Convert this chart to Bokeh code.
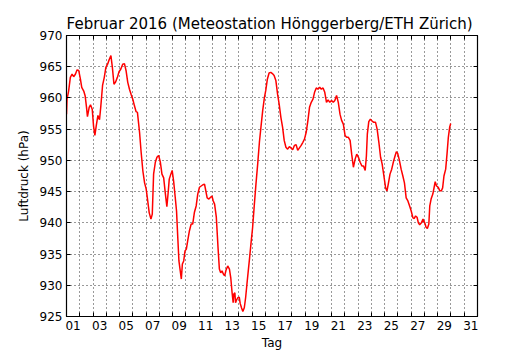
from bokeh.plotting import figure
from bokeh.models import Range1d, FixedTicker, LinearAxis, CustomJSTickFormatter
from bokeh.embed import file_html
from bokeh.resources import INLINE

# Day of month as a continuous value (0 = 1 Feb 00:00), pressure in hPa
day = [0.00, 0.04, 0.16, 0.29, 0.42, 0.54, 0.67, 0.80, 0.92, 1.05, 1.15, 1.30, 1.41, 1.51, 1.58,
       1.71, 1.81, 1.94, 2.04, 2.14, 2.24, 2.37, 2.49, 2.59, 2.72, 2.85, 2.97, 3.10, 3.23, 3.35,
       3.46, 3.58, 3.71, 3.84, 3.96, 4.09, 4.24, 4.37, 4.49, 4.62, 4.75, 4.87, 5.00, 5.13, 5.25,
       5.35, 5.51, 5.63, 5.76, 5.89, 6.01, 6.11, 6.24, 6.37, 6.47, 6.57, 6.70, 6.82, 6.95, 7.08,
       7.20, 7.33, 7.46, 7.57, 7.67, 7.75, 7.87, 7.97, 8.08, 8.20, 8.30, 8.38, 8.48, 8.58, 8.66,
       8.74, 8.84, 8.94, 9.04, 9.14, 9.27, 9.40, 9.52, 9.65, 9.78, 9.90, 10.03, 10.16, 10.29, 10.41,
       10.51, 10.61, 10.74, 10.87, 10.97, 11.07, 11.17, 11.30, 11.43, 11.53, 11.63, 11.73, 11.83, 11.93, 12.03,
       12.16, 12.29, 12.39, 12.49, 12.57, 12.62, 12.70, 12.75, 12.82, 12.92, 13.03, 13.10, 13.20, 13.30, 13.41,
       13.51, 13.61, 13.71, 13.81, 13.91, 14.04, 14.17, 14.29, 14.42, 14.55, 14.68, 14.80, 14.93, 15.03, 15.15,
       15.28, 15.41, 15.53, 15.66, 15.79, 15.92, 16.04, 16.17, 16.30, 16.42, 16.55, 16.68, 16.81, 16.93, 17.06,
       17.19, 17.32, 17.44, 17.57, 17.70, 17.83, 17.95, 18.08, 18.21, 18.33, 18.46, 18.59, 18.71, 18.84, 18.97,
       19.10, 19.22, 19.35, 19.48, 19.61, 19.73, 19.86, 19.99, 20.12, 20.24, 20.37, 20.50, 20.63, 20.75, 20.88,
       21.01, 21.13, 21.26, 21.39, 21.51, 21.64, 21.77, 21.89, 22.02, 22.15, 22.28, 22.40, 22.53, 22.62, 22.69,
       22.80, 22.92, 23.05, 23.18, 23.31, 23.43, 23.56, 23.69, 23.81, 23.94, 24.07, 24.17, 24.27, 24.40, 24.53,
       24.65, 24.78, 24.88, 24.98, 25.11, 25.24, 25.37, 25.49, 25.62, 25.75, 25.88, 26.00, 26.13, 26.23, 26.33,
       26.44, 26.54, 26.64, 26.77, 26.89, 27.02, 27.12, 27.22, 27.33, 27.40, 27.50, 27.63, 27.73, 27.81, 27.91,
       28.04, 28.14, 28.27, 28.37, 28.47, 28.60, 28.70, 28.80, 28.90, 28.98]

pressure = [957.4, 959.8, 961.1, 963.3, 963.8, 963.4, 963.8, 964.5, 964.4, 963.0, 961.7, 961.1, 960.3, 958.5, 957.0,
            958.5, 958.9, 958.2, 955.5, 954.0, 955.5, 957.2, 956.5, 958.7, 962.0, 963.3, 964.9, 965.4, 966.2, 966.8,
            964.9, 962.2, 962.6, 963.3, 964.2, 964.6, 965.4, 965.5, 964.4, 962.5, 961.4, 960.6, 959.8, 958.7, 957.8,
            957.7, 954.5, 951.3, 948.3, 946.4, 945.4, 943.8, 941.6, 940.6, 941.4, 947.8, 949.7, 950.5, 950.8, 949.7,
            947.8, 947.2, 944.6, 942.6, 944.9, 947.0, 947.8, 948.4, 946.7, 944.1, 941.9, 938.2, 933.9, 932.3, 931.0,
            933.4, 933.9, 935.5, 935.8, 937.1, 938.7, 939.8, 939.8, 941.7, 942.7, 944.6, 945.7, 945.9, 946.1, 946.2,
            945.1, 944.0, 943.8, 944.1, 944.3, 943.5, 943.0, 940.9, 936.0, 932.6, 932.0, 932.3, 931.8, 931.5, 932.4,
            933.1, 932.6, 931.2, 928.8, 927.2, 928.6, 928.8, 927.2, 927.6, 928.0, 928.1, 927.1, 926.4, 925.8, 926.4,
            928.0, 930.2, 932.3, 934.4, 936.6, 939.3, 943.0, 946.2, 949.4, 952.9, 955.6, 958.0, 960.1, 961.2, 963.0,
            964.0, 964.1, 963.9, 963.6, 962.8, 960.6, 959.0, 956.9, 955.3, 953.2, 952.1, 951.8, 952.2, 952.0, 951.7,
            952.4, 952.5, 951.6, 952.0, 952.4, 952.9, 953.4, 954.5, 956.4, 958.5, 959.3, 959.8, 960.9, 961.6, 961.4,
            961.7, 961.4, 961.6, 960.9, 959.3, 959.7, 959.3, 959.6, 959.3, 959.6, 960.4, 959.3, 957.4, 956.4, 955.8,
            954.0, 953.7, 953.7, 953.2, 951.0, 948.9, 950.2, 951.0, 950.5, 949.7, 949.1, 949.1, 948.4, 950.7, 954.2,
            956.2, 956.6, 956.3, 956.1, 956.1, 955.0, 952.9, 950.5, 949.4, 947.5, 945.6, 945.1, 946.2, 947.8, 948.6,
            949.7, 950.7, 951.4, 951.1, 950.0, 948.6, 947.5, 946.4, 944.0, 943.5, 942.7, 941.9, 940.8, 940.7, 941.1,
            940.9, 940.0, 939.7, 940.0, 940.6, 940.0, 939.3, 939.1, 939.8, 942.7, 943.8, 944.6, 945.7, 946.6, 945.9,
            945.7, 945.2, 945.1, 945.6, 947.5, 948.6, 951.0, 953.7, 955.3, 955.9]

day_labels = ["01", "03", "05", "07", "09", "11", "13", "15", "17", "19", "21", "23", "25", "27", "29", "31"]
y_ticks = [925, 930, 935, 940, 945, 950, 955, 960, 965, 970]
n_days_axis = 31

FONT = "DejaVu Sans"

label_pos = [int(s) - 0.5 for s in day_labels]
day_bounds = list(range(1, n_days_axis))

p = figure(frame_width=411, frame_height=281,
           x_range=Range1d(0, n_days_axis), y_range=Range1d(y_ticks[0], y_ticks[-1]),
           output_backend="svg", toolbar_location=None,
           min_border_left=66, min_border_right=40, min_border_top=35, min_border_bottom=0,
           title="Februar 2016  (Meteostation Hönggerberg/ETH Zürich)")

p.title.text_font = FONT
p.title.text_font_size = "15px"
p.title.text_font_style = "normal"
p.title.text_color = "black"
p.title.align = "center"
p.title.standoff = 5
p.title.offset = 0

p.background_fill_color = "white"
p.border_fill_color = "white"
p.outline_line_color = "black"
p.outline_line_width = 1.2

x_ticker = FixedTicker(ticks=label_pos, minor_ticks=day_bounds)
y_ticker = FixedTicker(ticks=y_ticks, minor_ticks=[])
blank = CustomJSTickFormatter(code="return ''")

# bottom axis
xa = p.xaxis[0]
xa.ticker = x_ticker
xa.major_label_overrides = {pos: lab for pos, lab in zip(label_pos, day_labels)}
xa.major_tick_in = 0
xa.major_tick_out = 0
xa.minor_tick_in = 4
xa.minor_tick_out = 0
xa.minor_tick_line_color = "black"
xa.axis_label = "Tag"
xa.axis_label_text_font = FONT
xa.axis_label_text_font_size = "12px"
xa.axis_label_text_font_style = "normal"
xa.axis_label_text_color = "black"
xa.axis_label_standoff = 3
xa.major_label_text_font = FONT
xa.major_label_text_font_size = "12px"
xa.major_label_text_color = "black"
xa.major_label_standoff = 4
xa.axis_line_color = "black"

# left axis
ya = p.yaxis[0]
ya.ticker = y_ticker
ya.major_tick_in = 4
ya.major_tick_out = 0
ya.major_tick_line_color = "black"
ya.minor_tick_in = 0
ya.minor_tick_out = 0
ya.axis_label = "Luftdruck (hPa)"
ya.axis_label_text_font = FONT
ya.axis_label_text_font_size = "12px"
ya.axis_label_text_font_style = "normal"
ya.axis_label_text_color = "black"
ya.axis_label_standoff = 6
ya.major_label_text_font = FONT
ya.major_label_text_font_size = "12px"
ya.major_label_text_color = "black"
ya.major_label_standoff = 4
ya.axis_line_color = "black"

# top axis (ticks only)
top = LinearAxis(ticker=x_ticker, formatter=blank, major_tick_in=0, major_tick_out=0,
                 minor_tick_in=4, minor_tick_out=0, minor_tick_line_color="black",
                 major_label_standoff=0, axis_line_color="black")
p.add_layout(top, "above")

# right axis (ticks only)
right = LinearAxis(ticker=y_ticker, formatter=blank, major_tick_in=4, major_tick_out=0,
                   major_tick_line_color="black", minor_tick_in=0, minor_tick_out=0,
                   major_label_standoff=0, axis_line_color="black")
p.add_layout(right, "right")

# dotted grid
p.xgrid.ticker = FixedTicker(ticks=day_bounds)
p.ygrid.ticker = y_ticker
for g in (p.xgrid[0], p.ygrid[0]):
    g.grid_line_color = "black"
    g.grid_line_dash = "1 3"
    g.grid_line_width = 1
    g.grid_line_alpha = 0.8

p.line(day, pressure, line_color="#ff0000", line_width=1.5)

open("out.html", "w").write(file_html(p, INLINE))
